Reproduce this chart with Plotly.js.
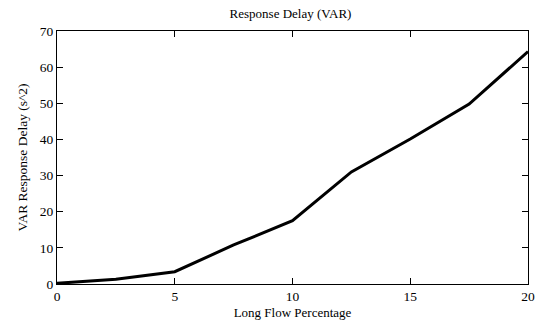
<!DOCTYPE html>
<html><head><meta charset="utf-8">
<script src="https://cdn.plot.ly/plotly-3.0.1.min.js"></script>
<style>body{margin:0;}#chart{width:536px;height:326px;}</style>
</head><body><div id="chart"></div>
<script>
const longFlowPct = [0, 2.5, 5, 7.5, 10, 12.5, 15, 17.5, 20];
const varDelay = [0.2, 1.3, 3.4, 10.8, 17.5, 31.0, 40.1, 49.8, 64.3];
const xTicks = [0, 5, 10, 15, 20];
const yTicks = [0, 10, 20, 30, 40, 50, 60, 70];
const fam = 'Liberation Serif, Times New Roman, serif';
const font = {family: fam, size: 13.5, color: '#000'};
const axisBase = {
  showline: true, linecolor: '#000', linewidth: 1.3, mirror: 'allticks',
  ticks: 'inside', ticklen: 6, tickcolor: '#000', tickwidth: 1,
  showgrid: false, zeroline: false, tickfont: font
};
Plotly.newPlot('chart', [{
  x: longFlowPct, y: varDelay, type: 'scatter', mode: 'lines',
  line: {color: '#000', width: 3}
}], {
  width: 536, height: 326,
  margin: {l: 57, r: 8, t: 31, b: 42},
  paper_bgcolor: '#fff', plot_bgcolor: '#fff',
  showlegend: false,
  title: {text: 'Response Delay (VAR)', font: {family: fam, size: 13, color: '#000'}, x: 0.542, xanchor: 'center', y: 0.96, yanchor: 'middle'},
  xaxis: Object.assign({}, axisBase, {range: [0, 20], tickvals: xTicks, ticktext: xTicks.map(String),
    title: {text: 'Long Flow Percentage', font: {family: fam, size: 13, color: '#000'}, standoff: 4}}),
  yaxis: Object.assign({}, axisBase, {range: [0, 70], tickvals: yTicks, ticktext: yTicks.map(String),
    title: {text: 'VAR Response Delay (s^2)', font: {family: fam, size: 13.5, color: '#000'}, standoff: 8}})
}, {displayModeBar: false});
</script></body></html>
